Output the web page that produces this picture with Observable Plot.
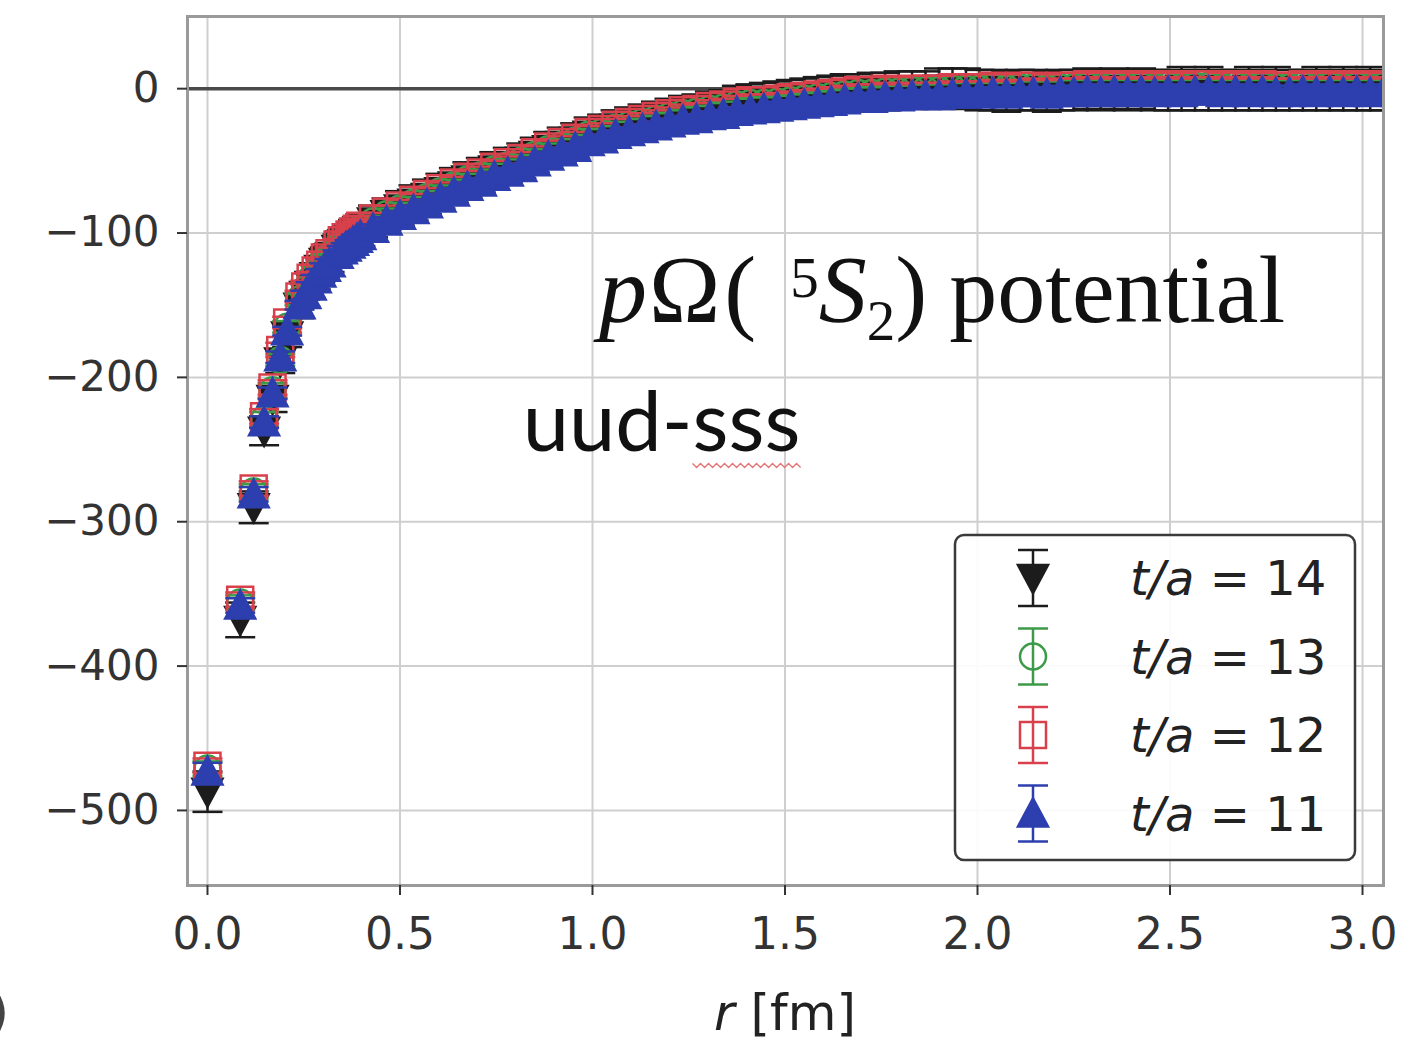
<!DOCTYPE html>
<html><head><meta charset="utf-8">
<script src="https://cdn.jsdelivr.net/npm/d3@7"></script>
<script src="https://cdn.jsdelivr.net/npm/@observablehq/plot@0.6"></script>
<style>
html,body{margin:0;padding:0;background:#fff;}
#chart{position:relative;width:1404px;height:1041px;overflow:hidden;background:#fff;}
</style></head><body><div id="chart"></div>
<script>
// ---------------- data ----------------
const r = [
0, 0.085, 0.120, 0.147, 0.169, 0.189, 0.207, 0.239, 0.254, 0.268,
0.281, 0.293, 0.305, 0.317, 0.338, 0.349, 0.359, 0.369, 0.378, 0.388,
0.397, 0.430, 0.465, 0.500, 0.535, 0.570, 0.605, 0.640, 0.675, 0.710,
0.745, 0.780, 0.815, 0.850, 0.885, 0.920, 0.955, 0.990, 1.025, 1.060,
1.095, 1.130, 1.165, 1.200, 1.235, 1.270, 1.305, 1.340, 1.375, 1.410,
1.445, 1.480, 1.515, 1.550, 1.585, 1.620, 1.655, 1.690, 1.725, 1.760,
1.795, 1.830, 1.865, 1.900, 1.935, 1.970, 2.005, 2.040, 2.075, 2.110,
2.145, 2.180, 2.215, 2.250, 2.285, 2.320, 2.355, 2.390, 2.425, 2.460,
2.495, 2.530, 2.565, 2.600, 2.635, 2.670, 2.705, 2.740, 2.775, 2.810,
2.845, 2.880, 2.915, 2.950, 2.985, 3.020, 3.055, 3.090];

// t/a = 14
const v14 = [
-487, -368, -290, -237, -215, -189, -171, -151, -143, -136,
-130, -125, -120, -117, -111, -108, -106, -104, -102, -100,
-98, -92, -87, -83, -79, -75, -71, -67, -63, -60,
-56, -53, -50, -46, -42, -39, -36, -32, -30, -27,
-25, -23, -21, -19, -17, -16, -14, -13, -11, -10,
-9, -8, -7, -6, -5, -4, -3, -3, -2, -2,
-1, -1, -1, 0, 0, 0, -1, -1, -2, -1,
-1, -2, -1, -1, 0, -1, 0, -1, 0, -1,
-1, 0, -1, 0, -1, -1, 0, -1, 0, -1,
-1, 0, -1, 0, -1, 0, -1, 0];
const e14 = [
14, 12, 11, 10, 9, 8, 8, 8, 8, 9,
9, 9, 10, 10, 10, 10, 10, 10, 11, 11,
11, 11, 11, 12, 12, 12, 12, 12, 12, 12,
12, 12, 12, 12, 12, 12, 12, 12, 12, 12,
12, 12, 12, 12, 12, 12, 12, 12, 13, 13,
13, 13, 13, 13, 13, 13, 13, 13, 13, 13,
13, 13, 13, 14, 14, 14, 14, 14, 14, 14,
14, 14, 14, 14, 14, 14, 14, 14, 14, 14,
14, 15, 14, 15, 14, 14, 15, 14, 15, 14,
14, 15, 14, 15, 14, 15, 14, 15];

// t/a = 13
const v13 = [
-471, -356, -279, -229, -209, -188, -165, -146, -139, -132,
-127, -123, -119, -116, -110, -107, -105, -103, -101, -99,
-97, -92, -87, -83, -79, -75, -71, -67, -63, -60,
-56, -53, -50, -46, -42, -39, -36, -32, -30, -27,
-25, -23, -21, -19, -17, -16, -14, -13, -11, -10,
-10, -9, -8, -7, -6, -5, -4, -3, -3, -2,
-2, -1, -1, -1, 0, 0, 0, 1, 0, 1,
1, 0, 1, 1, 2, 1, 2, 1, 2, 1,
2, 1, 2, 2, 1, 2, 1, 2, 1, 1,
2, 1, 2, 1, 2, 1, 2, 1];
const e13 = [
5, 5, 5, 5, 5, 4, 4, 4, 4, 4,
4, 4, 4, 4, 4, 4, 4, 4, 4, 4,
4, 4, 4, 4, 4, 4, 4, 4, 4, 4,
4, 4, 4, 4, 4, 4, 4, 4, 4, 4,
4, 4, 4, 4, 4, 4, 4, 4, 4, 4,
4, 4, 4, 4, 4, 4, 4, 4, 4, 4,
4, 4, 4, 4, 4, 4, 4, 4, 4, 4,
5, 5, 5, 5, 5, 5, 5, 5, 5, 5,
5, 5, 5, 5, 5, 5, 5, 5, 5, 5,
5, 5, 5, 5, 5, 5, 5, 5];

// t/a = 12
const v12 = [
-469, -354, -277, -227, -207, -181, -162, -144, -137, -131,
-126, -122, -117, -114, -108, -105, -103, -101, -99, -97,
-95, -90, -85, -81, -77, -73, -69, -65, -61, -58,
-54, -51, -48, -44, -40, -37, -34, -30, -28, -25,
-23, -21, -19, -17, -15, -14, -12, -11, -9, -8,
-8, -7, -6, -5, -4, -3, -2, -1, -1, 0,
-1, 0, 0, 0, 1, 1, 1, 2, 1, 2,
2, 1, 2, 2, 3, 2, 3, 2, 3, 2,
3, 2, 3, 3, 2, 3, 2, 3, 2, 2,
3, 2, 3, 2, 3, 2, 3, 2];
const e12 = [
5, 5, 5, 5, 5, 5, 4, 4, 4, 4,
4, 4, 4, 4, 4, 4, 4, 4, 4, 4,
4, 4, 4, 4, 4, 4, 4, 4, 4, 4,
4, 4, 4, 4, 4, 4, 4, 4, 4, 4,
4, 4, 4, 4, 4, 4, 4, 4, 4, 4,
4, 4, 4, 4, 4, 4, 4, 4, 4, 4,
4, 4, 4, 4, 4, 4, 4, 4, 4, 4,
5, 5, 5, 5, 5, 5, 5, 5, 5, 5,
5, 5, 5, 5, 5, 5, 5, 5, 5, 5,
5, 5, 5, 5, 5, 5, 5, 5];

// t/a = 11
const v11 = [
-473, -358, -281, -231, -211, -186, -168, -150, -143, -137,
-132, -128, -124, -121, -115, -112, -110, -108, -106, -104,
-102, -97, -92, -88, -84, -80, -76, -72, -68, -65,
-61, -58, -55, -51, -47, -44, -41, -37, -35, -32,
-30, -28, -26, -24, -22, -21, -19, -18, -16, -15,
-14, -13, -12, -11, -10, -9, -8, -7, -7, -6,
-6, -5, -5, -5, -4, -4, -4, -3, -4, -3,
-3, -4, -3, -3, -2, -3, -2, -3, -2, -3,
-2, -3, -2, -2, -3, -2, -3, -2, -3, -3,
-2, -3, -2, -3, -2, -3, -2, -3];
const e11 = [
6, 5, 5, 4, 4, 4, 3, 3, 3, 3,
3, 3, 3, 3, 3, 3, 3, 3, 3, 3,
3, 3, 3, 3, 3, 3, 3, 3, 3, 3,
3, 3, 3, 3, 3, 3, 3, 3, 3, 3,
3, 3, 3, 3, 3, 3, 3, 3, 3, 3,
3, 4, 4, 4, 4, 4, 4, 4, 4, 4,
4, 4, 4, 4, 4, 4, 4, 4, 4, 4,
4, 5, 5, 5, 5, 5, 5, 5, 5, 5,
5, 5, 5, 5, 5, 5, 5, 5, 5, 5,
5, 5, 5, 5, 5, 5, 5, 5];

const seriesT = [14, 13, 12, 11];
const xTicks = [0.0, 0.5, 1.0, 1.5, 2.0, 2.5, 3.0];
const yTicks = [0, -100, -200, -300, -400, -500];

// ---------------- styling ----------------
const W = 1404, H = 1041;
const M = {top: 16, right: 21, bottom: 156, left: 187};
const colors = {14: "#1c1c1c", 13: "#3c9a48", 12: "#d8404c", 11: "#2d3fae"};

const triDown = {draw(c) { c.moveTo(-15, -13); c.lineTo(15, -13); c.lineTo(0, 15); c.closePath(); }};
const triUp   = {draw(c) { c.moveTo(-15, 13); c.lineTo(15, 13); c.lineTo(0, -15); c.closePath(); }};
const square  = {draw(c) { c.rect(-13, -13, 26, 26); }};
const circle  = {draw(c) { c.moveTo(13, 0); c.arc(0, 0, 13, 0, 2 * Math.PI); c.closePath(); }};
const cap     = {draw(c) { c.moveTo(-15, 0); c.lineTo(15, 0); }};
const symbols = {14: triDown, 13: circle, 12: square, 11: triUp};
const filled  = {14: true, 13: false, 12: false, 11: true};

const vals = {14: v14, 13: v13, 12: v12, 11: v11};
const errs = {14: e14, 13: e13, 12: e12, 11: e11};

function rowsFor(t) {
  return r.map((x, i) => ({r: x, v: vals[t][i], lo: vals[t][i] - errs[t][i], hi: vals[t][i] + errs[t][i]}));
}

const seriesMarks = [];
for (const t of seriesT) {
  const rows = rowsFor(t);
  const c = colors[t];
  seriesMarks.push(
    Plot.ruleX(rows, {x: "r", y1: "lo", y2: "hi", stroke: c, strokeWidth: 2.5, clip: true}),
    Plot.dot(rows, {x: "r", y: "lo", symbol: cap, r: 10, fill: "none", stroke: c, strokeWidth: 2.5, clip: true}),
    Plot.dot(rows, {x: "r", y: "hi", symbol: cap, r: 10, fill: "none", stroke: c, strokeWidth: 2.5, clip: true}),
    Plot.dot(rows, {x: "r", y: "v", symbol: symbols[t], r: 10, fill: filled[t] ? c : "none", stroke: c, strokeWidth: 2.5, clip: true})
  );
}

const chart = Plot.plot({
  width: W, height: H,
  marginTop: M.top, marginRight: M.right, marginBottom: M.bottom, marginLeft: M.left,
  style: {fontFamily: "DejaVu Sans", fontSize: "42px", background: "#fff", color: "#333"},
  x: {domain: [-0.0519, 3.0545]},
  y: {domain: [-552, 50]},
  marks: [
    Plot.gridX(xTicks, {stroke: "#cfcfcf", strokeOpacity: 1, strokeWidth: 2}),
    Plot.gridY(yTicks, {stroke: "#cfcfcf", strokeOpacity: 1, strokeWidth: 2}),
    Plot.ruleY([0], {stroke: "#4a4a4a", strokeWidth: 3.5}),
    ...seriesMarks,
    Plot.frame({stroke: "#9a9a9a", strokeWidth: 3}),
    Plot.axisX(xTicks, {tickSize: 10, tickPadding: 22, fontSize: 44, strokeWidth: 2, color: "#333",
      tickFormat: d => d.toFixed(1), label: null}),
    Plot.axisY(yTicks, {tickSize: 10, tickPadding: 18, fontSize: 42, strokeWidth: 2, color: "#333",
      tickFormat: d => d < 0 ? "\u2212" + Math.abs(d) : String(d), label: null})
  ]
});

document.getElementById("chart").appendChild(chart);

// ---------------- annotations, legend ----------------
const svg = d3.select(chart);
const sx = chart.scale("x"), sy = chart.scale("y");

// x-axis label
const xl = svg.append("text")
  .attr("x", (M.left + W - M.right) / 2).attr("y", H - 11)
  .attr("text-anchor", "middle")
  .style("font-family", "DejaVu Sans").style("font-size", "50px").attr("fill", "#222");
xl.append("tspan").style("font-style", "italic").text("r");
xl.append("tspan").text(" [fm]");

// cut-off panel label at the left edge
svg.append("text").attr("x", 9).attr("y", H - 12).attr("text-anchor", "end")
  .style("font-family", "DejaVu Sans").style("font-size", "50px").attr("fill", "#444").text("(b)");

// pΩ(5S2) potential
const t1 = svg.append("text").attr("x", sx.apply(1.018)).attr("y", sy.apply(-162))
  .attr("text-anchor", "start")
  .style("font-family", "Liberation Serif").style("font-size", "96px").attr("fill", "#111");
t1.append("tspan").style("font-style", "italic").text("p");
t1.append("tspan").attr("dx", 2).text("\u03A9");
t1.append("tspan").attr("dx", 4).text("(");
t1.append("tspan").attr("dx", 34).attr("dy", -25).style("font-size", "57px").text("5");
t1.append("tspan").attr("dy", 25).style("font-style", "italic").text("S");
t1.append("tspan").attr("dy", 18).style("font-size", "57px").text("2");
t1.append("tspan").attr("dy", -18).text(")");
t1.append("tspan").attr("dx", 22).text("potential");

// uud-sss
const t2 = svg.append("text").attr("x", sx.apply(0.82)).attr("y", sy.apply(-251))
  .attr("text-anchor", "start")
  .style("font-family", "Lato").style("font-size", "83px").attr("fill", "#111")
  .text("uud-sss");
// red wavy spell-check underline under "sss"
{
  const n = t2.node();
  const x0 = n.getStartPositionOfChar(4).x;
  const len = n.getSubStringLength(4, 3);
  const yb = sy.apply(-251) + 13;
  let d = `M${x0},${yb}`;
  for (let k = 0, x = x0; x < x0 + len; k++) {
    x += 4;
    d += `L${x},${yb + (k % 2 ? 0 : 4)}`;
  }
  svg.append("path").attr("d", d).attr("fill", "none").attr("stroke", "#e27a7a").attr("stroke-width", 1.5);
}

// legend
const lg = svg.append("g");
const lx0 = W - M.right - 28 - 400, ly0 = H - M.bottom - 25 - 325;
lg.append("rect").attr("x", lx0).attr("y", ly0).attr("width", 400).attr("height", 325)
  .attr("rx", 9).attr("fill", "#fff").attr("fill-opacity", 0.9)
  .attr("stroke", "#3a3a3a").attr("stroke-width", 2.5);
seriesT.forEach((t, i) => {
  const cy = ly0 + 43 + i * 78.5, cx = lx0 + 78;
  const c = colors[t];
  const g = lg.append("g").attr("transform", `translate(${cx},${cy})`);
  g.append("line").attr("y1", -28).attr("y2", 28).attr("stroke", c).attr("stroke-width", 2.5);
  g.append("path").attr("d", d3.symbol().type(cap)()).attr("transform", "translate(0,-28)").attr("stroke", c).attr("stroke-width", 2.5);
  g.append("path").attr("d", d3.symbol().type(cap)()).attr("transform", "translate(0,28)").attr("stroke", c).attr("stroke-width", 2.5);
  g.append("path").attr("d", d3.symbol().type(symbols[t])())
    .attr("fill", filled[t] ? c : "none").attr("stroke", c).attr("stroke-width", 2.5);
  const tx = lg.append("text").attr("x", lx0 + 175).attr("y", cy + 17)
    .attr("text-anchor", "start")
    .style("font-family", "DejaVu Sans").style("font-size", "48px").attr("fill", "#222");
  tx.append("tspan").style("font-style", "italic").text("t/a");
  tx.append("tspan").text(" = " + t);
});
</script>
</body></html>
